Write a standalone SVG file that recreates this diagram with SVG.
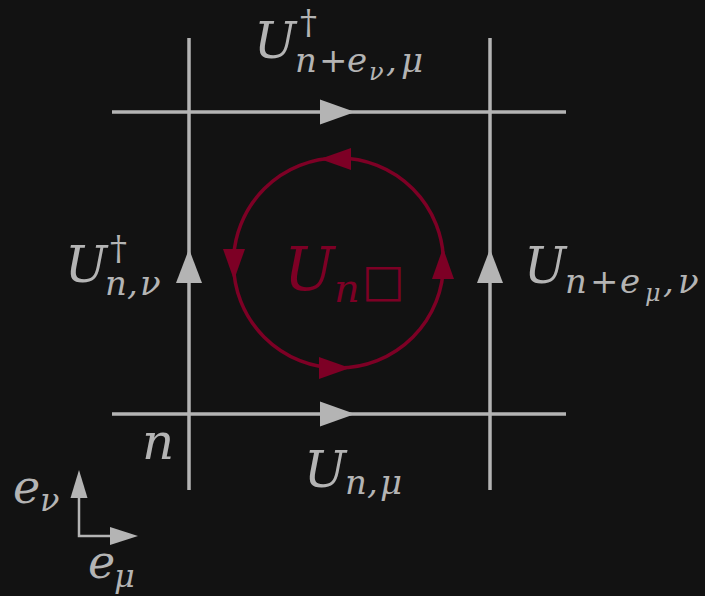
<svg xmlns="http://www.w3.org/2000/svg" width="705" height="596" viewBox="0 0 705 596">
<style>
.ln{stroke:#b4b4b4;stroke-width:3.5;fill:none}
.ah{fill:#b4b4b4}
.rd{stroke:#7d0025;stroke-width:3.5;fill:none}
.rah{fill:#7d0025}
text{font-family:"DejaVu Serif",serif;font-style:italic;fill:#b4b4b4}
.up{font-style:normal}
.red{fill:#7d0025}
</style>
<rect width="705" height="596" fill="#121212"/>
<g id="connectors">
<line class="ln" x1="189" y1="38" x2="189" y2="490"/>
<line class="ln" x1="490" y1="38" x2="490" y2="490"/>
<line class="ln" x1="112" y1="112" x2="566" y2="112"/>
<line class="ln" x1="112" y1="414" x2="566" y2="414"/>
<polygon class="ah" points="320,99.5 320,124.5 355,112"/>
<polygon class="ah" points="320,401.5 320,426.5 355,414"/>
<polygon class="ah" points="189,249 176,283 202,283"/>
<polygon class="ah" points="490,249 477,283 503,283"/>
<circle class="rd" cx="338.5" cy="263" r="105"/>
<polygon class="rah" points="320,159 351,148 351,170"/>
<polygon class="rah" points="234,280 223,249 245,249"/>
<polygon class="rah" points="350,368 319,357 319,379"/>
<polygon class="rah" points="443,248 432,279 454,279"/>
</g>
<g id="axes">
<polyline points="79,497 79,536 111,536" style="stroke:#b4b4b4;stroke-width:2.5;fill:none"/>
<polygon class="ah" points="79,470 70.5,498 87.5,498"/>
<polygon class="ah" points="138,536 110,527 110,545"/>
<text x="13" y="503" font-size="46">e<tspan x="40" y="511" font-size="32">ν</tspan></text>
<text x="88" y="578" font-size="46">e<tspan x="114" y="587" font-size="32">μ</tspan></text>
</g>
<g id="label-top">
<text x="254" y="58" font-size="50">U<tspan class="up" x="300" y="34" font-size="34">†</tspan><tspan x="295" y="72" font-size="34">n</tspan><tspan class="up" x="319" y="72" font-size="34">+</tspan><tspan x="347" y="72" font-size="34">e</tspan><tspan x="369" y="80" font-size="24">ν</tspan><tspan x="386" y="72" font-size="34">,</tspan><tspan x="401" y="72" font-size="34">μ</tspan></text>
</g>
<g id="label-left">
<text x="65" y="282" font-size="50">U<tspan class="up" x="110" y="260" font-size="34">†</tspan><tspan x="105" y="295" font-size="34">n</tspan><tspan x="127" y="295" font-size="34">,</tspan><tspan x="140" y="295" font-size="34">ν</tspan></text>
</g>
<g id="label-right">
<text x="524" y="283" font-size="50">U<tspan x="565" y="293" font-size="34">n</tspan><tspan class="up" x="590" y="293" font-size="34">+</tspan><tspan x="620" y="293" font-size="34">e</tspan><tspan x="645" y="301" font-size="24">μ</tspan><tspan x="663" y="293" font-size="34">,</tspan><tspan x="678" y="293" font-size="34">ν</tspan></text>
</g>
<g id="label-bottom">
<text x="304" y="487" font-size="50">U<tspan x="345" y="494" font-size="34">n</tspan><tspan x="367" y="494" font-size="34">,</tspan><tspan x="380" y="494" font-size="34">μ</tspan></text>
</g>
<g id="label-n">
<text x="142" y="459" font-size="50">n</text>
</g>
<g id="label-plaquette">
<text class="red" x="284" y="290" font-size="60">U<tspan x="334" y="302" font-size="40">n</tspan><tspan class="up" x="362" y="296" font-size="45" style="font-family:'DejaVu Sans',sans-serif">□</tspan></text>
</g>
</svg>
